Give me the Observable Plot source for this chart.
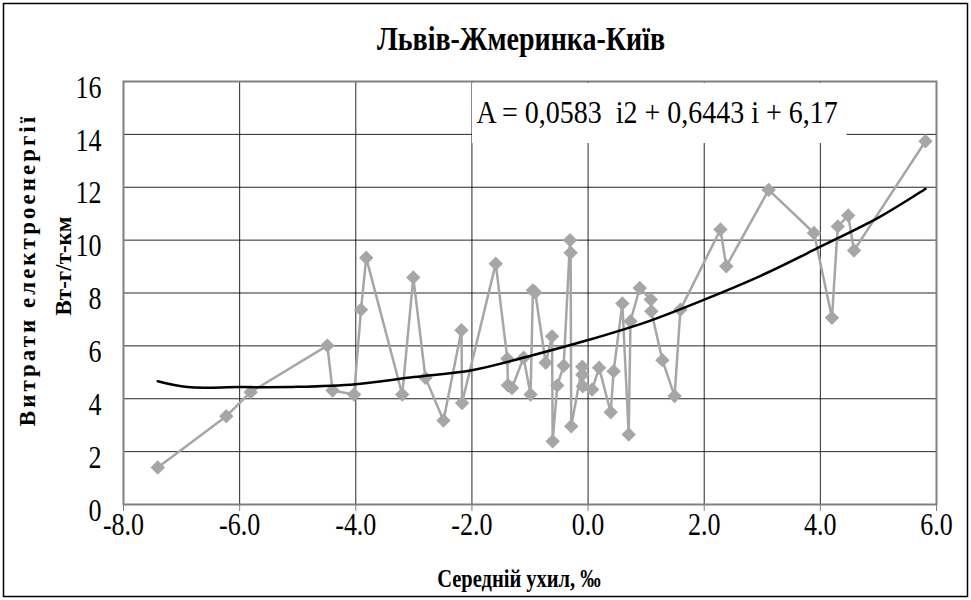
<!DOCTYPE html>
<html><head><meta charset="utf-8">
<script src="https://cdn.jsdelivr.net/npm/d3@7"></script>
<script src="https://cdn.jsdelivr.net/npm/@observablehq/plot@0.6"></script>
<style>
body{margin:0;background:#fff}
#chart{position:relative;width:971px;height:600px}
</style>
</head><body><div id="chart"></div>
<script>
// Measured points (average grade, ‰ ; energy consumption, W·h/t·km)
const grade = [-7.41, -6.23, -5.81, -4.49, -4.40, -4.03, -3.91, -3.82, -3.20, -3.01, -2.80, -2.49, -2.18, -2.17, -1.59, -1.39, -1.38, -1.31, -1.11, -0.99, -0.95, -0.91, -0.73, -0.62, -0.61, -0.53, -0.42, -0.31, -0.30, -0.29, -0.10, -0.10, -0.09, 0.07, 0.19, 0.39, 0.44, 0.59, 0.70, 0.73, 0.89, 1.08, 1.09, 1.28, 1.49, 1.59, 2.28, 2.38, 3.11, 3.89, 4.20, 4.30, 4.48, 4.58, 5.81];
const energy = [1.40, 3.34, 4.25, 6.01, 4.31, 4.16, 7.37, 9.33, 4.16, 8.59, 4.79, 3.18, 6.59, 3.84, 9.11, 5.51, 4.51, 4.41, 5.55, 4.16, 8.10, 8.02, 5.36, 6.36, 2.39, 4.50, 5.25, 10.0, 9.52, 2.96, 5.21, 4.91, 4.47, 4.35, 5.17, 3.49, 5.04, 7.60, 2.65, 6.93, 8.19, 7.75, 7.31, 5.46, 4.10, 7.37, 10.4, 9.01, 11.9, 10.27, 7.06, 10.52, 10.93, 9.61, 13.74];
// Trend curve
const trendGrade = [-7.41, -6.9, -6, -5, -4, -3, -2, -1, 0, 1, 2, 3, 4, 5, 5.81];
const trendEnergy = [4.66, 4.44, 4.44, 4.45, 4.55, 4.82, 5.08, 5.62, 6.22, 6.90, 7.75, 8.68, 9.75, 10.85, 11.94];
const xTicks = [-8, -6, -4, -2, 0, 2, 4, 6];
const yTicks = [0, 2, 4, 6, 8, 10, 12, 14, 16];
const titleText = "Львів-Жмеринка-Київ";
const yTitle1 = "Витрати електроенергії";
const yTitle2 = "Вт-г/т-км";
const xTitle = "Середній ухил, ‰";
const equation = "A = 0,0583  i2 + 0,6443 i + 6,17";

const points = grade.map((g, i) => ({grade: g, energy: energy[i]}));
const trend = trendGrade.map((g, i) => ({grade: g, energy: trendEnergy[i]}));
const font = "Liberation Serif, Times New Roman, serif";

const plot = Plot.plot({
  width: 971, height: 600,
  marginLeft: 123, marginRight: 35, marginTop: 81, marginBottom: 96,
  style: {fontFamily: font, fontSize: "26px", color: "#000", background: "#fff"},
  x: {domain: [-8, 6], label: null},
  y: {domain: [0, 16], label: null},
  marks: [
    Plot.gridX(xTicks, {stroke: "#000", strokeOpacity: 0.85, strokeWidth: 1}),
    Plot.gridY(yTicks, {stroke: "#000", strokeOpacity: 0.85, strokeWidth: 1}),
    Plot.frame({stroke: "#808080", strokeWidth: 2}),
    Plot.axisX(xTicks, {tickFormat: d => d.toFixed(1), tickSize: 7, tickPadding: 1, fontSize: 26, label: null, stroke: "#808080"}),
    Plot.axisY(yTicks, {tickSize: 0, tickPadding: 22, dy: 6, fontSize: 26, label: null}),
    Plot.line(points, {x: "grade", y: "energy", stroke: "#a6a6a6", strokeWidth: 2.5}),
    Plot.dot(points, {x: "grade", y: "energy", symbol: "diamond2", r: 6.5, fill: "#a6a6a6", stroke: "none"}),
    Plot.line(trend, {x: "grade", y: "energy", stroke: "#000", strokeWidth: 2.5, curve: "catmull-rom"})
  ]
});

const svg = d3.select(plot);
// serif tick labels, stretched vertically like the original
svg.selectAll("g[aria-label$='tick label'] text").each(function () {
  const t = d3.select(this);
  t.attr("font-family", font).style("font-family", font);
  const tr = t.attr("transform");
  if (tr) t.attr("transform", tr + " scale(1,1.23)");
});

const xs = plot.scale("x");
// equation box
const bx1 = xs.apply(-2), bx2 = 846;
svg.append("rect").attr("x", bx1 + 0.5).attr("y", 83).attr("width", bx2 - bx1).attr("height", 60).attr("fill", "#fff");
svg.append("text").attr("transform", `translate(${bx1 + 5},123) scale(1,1.15)`).attr("text-anchor", "start")
  .attr("font-family", font).attr("font-size", 28).attr("fill", "#000").text(equation);
// title
svg.append("text").attr("transform", "translate(521,50) scale(1,1.2)").attr("text-anchor", "middle")
  .attr("font-family", font).attr("font-weight", "bold").attr("font-size", 28).text(titleText);
// y titles
svg.append("text").attr("transform", "translate(35,270) rotate(-90)").attr("text-anchor", "middle")
  .attr("font-family", font).attr("font-weight", "bold").attr("font-size", 23).attr("letter-spacing", 3).text(yTitle1);
svg.append("text").attr("transform", "translate(71,266) rotate(-90)").attr("text-anchor", "middle")
  .attr("font-family", font).attr("font-weight", "bold").attr("font-size", 23).text(yTitle2);
// x title
svg.append("text").attr("transform", "translate(519,587) scale(1,1.22)").attr("text-anchor", "middle")
  .attr("font-family", font).attr("font-weight", "bold").attr("font-size", 20.5).text(xTitle);
// outer border
svg.append("rect").attr("x", 3.5).attr("y", 3.5).attr("width", 964).attr("height", 593)
  .attr("fill", "none").attr("stroke", "#000").attr("stroke-width", 1.5);

document.getElementById("chart").appendChild(plot);
</script>
</body></html>
